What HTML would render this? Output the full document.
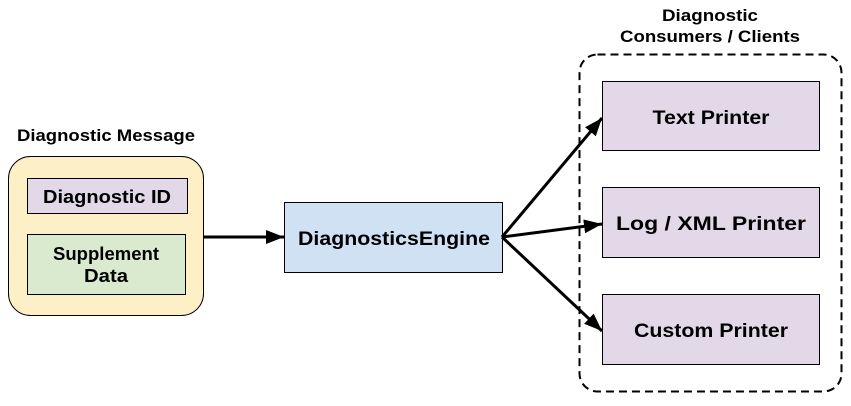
<!DOCTYPE html>
<html><head><style>body{margin:0;background:#fff}</style></head><body>
<svg width="851" height="401" xmlns="http://www.w3.org/2000/svg" font-family="Liberation Sans, Arial, sans-serif" font-weight="bold">
<defs>
<marker id="b" viewBox="0 0 10 10" markerWidth="18" markerHeight="14" refX="10" refY="5" orient="auto" markerUnits="userSpaceOnUse" preserveAspectRatio="none"><path d="M0,0 L10,5 L0,10z" fill="#000"/></marker></defs>
<text x="106" y="141" font-size="17" text-anchor="middle" textLength="178" lengthAdjust="spacingAndGlyphs">Diagnostic Message</text>
<rect x="8.5" y="156.5" width="195" height="159" rx="22" fill="#fdefc6" stroke="#000"/>
<rect x="27.5" y="178.5" width="160" height="35" fill="#e3d8e8" stroke="#000"/>
<text x="107" y="203" font-size="18" text-anchor="middle" textLength="128" lengthAdjust="spacingAndGlyphs">Diagnostic ID</text>
<rect x="27.5" y="234.5" width="158" height="60" fill="#d9eacf" stroke="#000"/>
<text x="106" y="260" font-size="18" text-anchor="middle" textLength="106" lengthAdjust="spacingAndGlyphs">Supplement</text>
<text x="106" y="282" font-size="18" text-anchor="middle" textLength="44" lengthAdjust="spacingAndGlyphs">Data</text>
<rect x="284.5" y="202.5" width="218" height="70" fill="#cfe1f2" stroke="#000"/>
<text x="394" y="245" font-size="19" text-anchor="middle" textLength="192" lengthAdjust="spacingAndGlyphs">DiagnosticsEngine</text>
<line x1="204" y1="237" x2="284" y2="237" stroke="#000" stroke-width="3" marker-end="url(#b)"/>
<line x1="502" y1="237" x2="602" y2="118" stroke="#000" stroke-width="3" marker-end="url(#b)"/>
<line x1="502" y1="237" x2="602" y2="224" stroke="#000" stroke-width="3" marker-end="url(#b)"/>
<line x1="502" y1="237" x2="602" y2="331" stroke="#000" stroke-width="3" marker-end="url(#b)"/>
<text x="710" y="21" font-size="17" text-anchor="middle" textLength="96" lengthAdjust="spacingAndGlyphs">Diagnostic</text>
<text x="710" y="42" font-size="17" text-anchor="middle" textLength="180" lengthAdjust="spacingAndGlyphs">Consumers / Clients</text>
<rect x="579.5" y="54.5" width="262" height="337" rx="18" fill="none" stroke="#000" stroke-width="2" stroke-dasharray="8,5"/>
<rect x="602.5" y="81.5" width="217" height="69" fill="#e3d8e8" stroke="#000"/>
<text x="711" y="124" font-size="19" text-anchor="middle" textLength="117" lengthAdjust="spacingAndGlyphs">Text Printer</text>
<rect x="602.5" y="187.5" width="217" height="70" fill="#e3d8e8" stroke="#000"/>
<text x="711" y="230" font-size="19" text-anchor="middle" textLength="190" lengthAdjust="spacingAndGlyphs">Log / XML Printer</text>
<rect x="602.5" y="294.5" width="217" height="70" fill="#e3d8e8" stroke="#000"/>
<text x="711" y="337" font-size="19" text-anchor="middle" textLength="154" lengthAdjust="spacingAndGlyphs">Custom Printer</text>
</svg>
</body></html>
